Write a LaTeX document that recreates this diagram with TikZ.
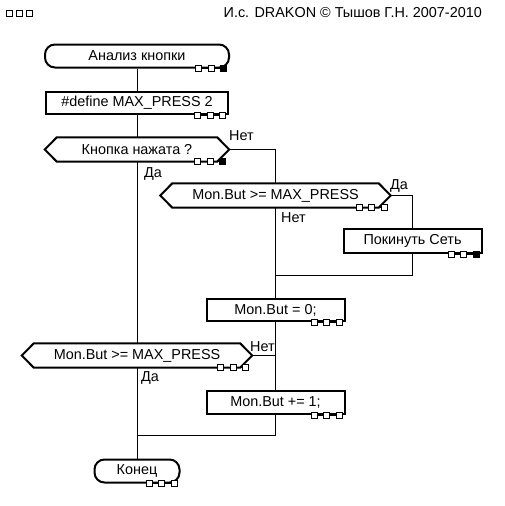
\documentclass[tikz,border=0pt]{standalone}
\usepackage{fontspec}
\setmainfont{Liberation Sans}
\usetikzlibrary{backgrounds,calc}
\newcommand\hexq[1]{\path[hexline] (#1.west) -- ([xshift=12pt]#1.north west) -- ([xshift=-12pt]#1.north east) -- (#1.east) -- ([xshift=-12pt]#1.south east) -- ([xshift=12pt]#1.south west) -- cycle;}
\newcommand\drsq[2]{%
  \draw[conn] ($(#1.east |- #1.south)+(-31.5,0)$) -- ($(#1.east |- #1.south)+(-6.5,0)$);
  \path[sqw] ($(#1.east |- #1.south)+(-34.5,-3)$) rectangle +(6,6);
  \path[sqw] ($(#1.east |- #1.south)+(-22,-3)$) rectangle +(6,6);
  \path[#2] ($(#1.east |- #1.south)+(-9.5,-3)$) rectangle +(6,6);}
\begin{document}
\begin{tikzpicture}[x=1pt,y=-1pt,
  every node/.style={font=\fontsize{14.4}{16}\selectfont, inner sep=0pt},
  term/.style={draw, line width=2pt, fill=white, rounded corners=10pt},
  act/.style={draw, line width=2pt, fill=white},
  quest/.style={minimum height=24pt},
  hexline/.style={draw, line width=2pt, fill=white},
  conn/.style={line width=1pt},
  lbl/.style={anchor=base west},
  sqw/.style={draw, line width=1pt, fill=white},
  sqb/.style={draw, line width=1pt, fill=black}]
\useasboundingbox (0,0) rectangle (505,506);

% header
\node[anchor=base east] (hdr) at (482,17) {И.с. DRAKON © Тышов Г.Н. 2007-2010};
\draw[line width=1pt] (6.5,10.5) rectangle +(6,6);
\draw[line width=1pt] (16.5,10.5) rectangle +(6,6);
\draw[line width=1pt] (26.5,10.5) rectangle +(6,6);

% icons
\node[term, minimum width=184pt, minimum height=23pt] (start) at (137,56) {Анализ кнопки};
\node[act, minimum width=182pt, minimum height=22pt] (def) at (137,103) {\#define MAX\_PRESS 2};
\node[quest, minimum width=184pt] (q1) at (137,149.5) {Кнопка нажата ?};
\node[quest, minimum width=230pt] (q2) at (275.5,195.5) {Mon.But >= MAX\_PRESS};
\node[act, minimum width=138pt, minimum height=24pt] (leave) at (412.5,241) {Покинуть Сеть};
\node[act, minimum width=138pt, minimum height=22pt] (zero) at (275.5,310) {Mon.But = 0;};
\node[quest, minimum width=230pt] (q3) at (137,355.5) {Mon.But >= MAX\_PRESS};
\node[act, minimum width=138pt, minimum height=23pt] (inc) at (275.5,402.5) {Mon.But += 1;};
\node[term, minimum width=85pt, minimum height=23pt] (end) at (137,471) {Конец};

\coordinate (j1) at (137,435.5);
\coordinate (j2) at (275.5,275.5);

\begin{scope}[on background layer]
\draw[conn] (start.south) -- (end.north);
\draw[conn] (q1.east) -| (zero.north);
\draw[conn] (zero.south) -- (inc.north);
\draw[conn] (inc.south) |- (j1);
\draw[conn] (q2.east) -| (leave.north);
\draw[conn] (leave.south) |- (j2);
\draw[conn] (q3.east) -- (q3.east -| zero.south);
\hexq{q1}
\hexq{q2}
\hexq{q3}
\end{scope}

% labels
\node[lbl] (n1) at (229,140) {Нет};
\node[lbl] (d1) at (144,177) {Да};
\node[lbl] (d2) at (390,189) {Да};
\node[lbl] (n2) at (281,222) {Нет};
\node[lbl] (n3) at (250,351) {Нет};
\node[lbl] (d3) at (141,381) {Да};

% port squares
\drsq{start}{sqb}
\drsq{def}{sqw}
\drsq{q1}{sqb}
\drsq{q2}{sqw}
\drsq{leave}{sqb}
\drsq{zero}{sqw}
\drsq{q3}{sqw}
\drsq{inc}{sqw}
\drsq{end}{sqw}
\end{tikzpicture}
\end{document}
